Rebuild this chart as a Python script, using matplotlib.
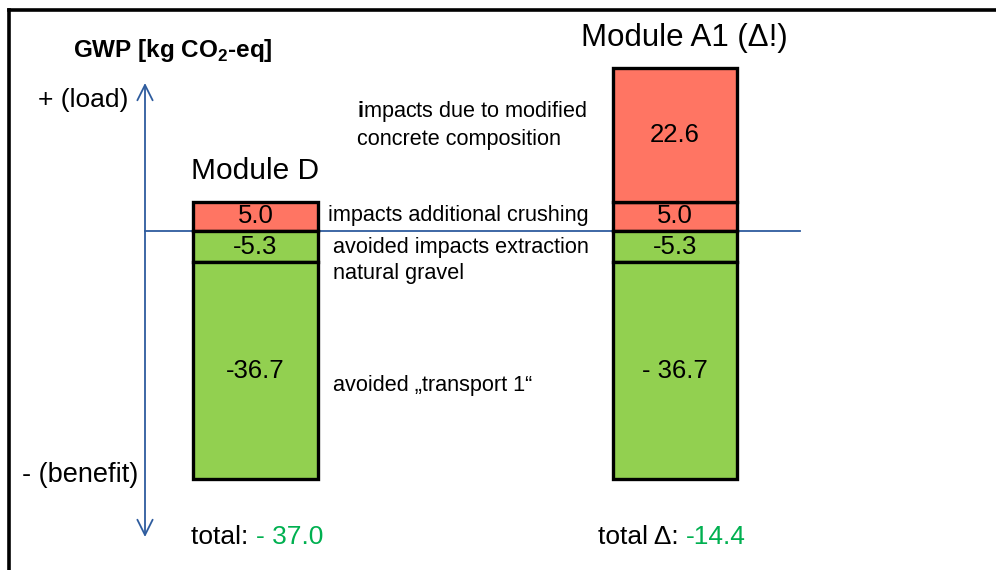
import matplotlib
matplotlib.use("Agg")
import matplotlib.pyplot as plt
from matplotlib.lines import Line2D

plt.rcParams['font.family'] = ['Liberation Sans', 'DejaVu Sans']
plt.rcParams['mathtext.fontset'] = 'custom'
plt.rcParams['mathtext.rm'] = 'Liberation Sans'
plt.rcParams['mathtext.bf'] = 'Liberation Sans:bold'

# data
modules = ['Module D', 'Module A1 (\u0394!)']
pos_d = [5.0]
neg_d = [-5.3, -36.7]
pos_a1 = [5.0, 22.6]
neg_a1 = [-5.3, -36.7]
labels_d_pos = ['5.0']
labels_d_neg = ['-5.3', '-36.7']
labels_a1_pos = ['5.0', '22.6']
labels_a1_neg = ['-5.3', '- 36.7']
totals = ['- 37.0', '-14.4']

RED = '#FF7563'
GREEN = '#92D050'
TGREEN = '#00B050'
BLUE = '#2E5C9E'

W, H = 996, 570
BASE = 231  # pixel row of the zero line
S = 5.9     # pixels per kg CO2-eq


def py(ypx):
    return (BASE - ypx) / S


fig = plt.figure(figsize=(W / 100, H / 100), dpi=100)
ax = fig.add_axes([0, 0, 1, 1])
ax.set_xlim(0, W)
ax.set_ylim(py(H), py(0))
ax.axis('off')

# frame
fig.add_artist(Line2D([9 / W, 9 / W], [0, 1 - 10 / H], color='black', lw=2.6))
fig.add_artist(Line2D([9 / W, 1], [1 - 10 / H, 1 - 10 / H], color='black', lw=2.6))

# axes arrow + zero line
ax.annotate('', xy=(145, py(83)), xytext=(145, py(537)),
            arrowprops=dict(arrowstyle='<->,head_length=1.1,head_width=0.55',
                            color=BLUE, lw=1.3, shrinkA=0, shrinkB=0))
ax.plot([145, 800], [0, 0], color=BLUE, lw=1.3, zorder=1)


def stack(xc, width, pos, neg, lab_pos, lab_neg):
    bottom = 0
    for v, lab in zip(pos, lab_pos):
        ax.bar(xc, v, bottom=bottom, width=width, color=RED,
               edgecolor='black', linewidth=2.4, zorder=3)
        ax.text(xc, bottom + v / 2, lab, ha='center', va='center',
                fontsize=18.5, zorder=4)
        bottom += v
    bottom = 0
    for v, lab in zip(neg, lab_neg):
        ax.bar(xc, v, bottom=bottom, width=width, color=GREEN,
               edgecolor='black', linewidth=2.4, zorder=3)
        ax.text(xc, bottom + v / 2, lab, ha='center', va='center',
                fontsize=18.5, zorder=4)
        bottom += v


stack(255.5, 125, pos_d, neg_d, labels_d_pos, labels_d_neg)
stack(675, 124, pos_a1, neg_a1, labels_a1_pos, labels_a1_neg)

# titles
ax.text(255, py(171), modules[0], ha='center', va='center', fontsize=21.5)
ax.text(684, py(38), modules[1], ha='center', va='center', fontsize=22.5)

ax.text(73, py(50), r'GWP [kg CO$_\mathbf{2}$-eq]', ha='left', va='center',
        fontsize=17.5, fontweight='bold')
ax.text(128, py(100), '+ (load)', ha='right', va='center', fontsize=19)
ax.text(138, py(475), '- (benefit)', ha='right', va='center', fontsize=19.5)

# annotations
FS = 15.6
ax.text(357, py(112), r'$\mathbf{i}$mpacts due to modified', ha='left',
        va='center', fontsize=FS)
ax.text(357, py(139), 'concrete composition', ha='left', va='center', fontsize=FS)
ax.text(328, py(216), 'impacts additional crushing', ha='left', va='center', fontsize=FS)
ax.text(333, py(247), 'avoided impacts extraction', ha='left', va='center', fontsize=FS)
ax.text(333, py(274), 'natural gravel', ha='left', va='center', fontsize=FS)
ax.text(333, py(386), 'avoided \u201etransport 1\u201c', ha='left', va='center', fontsize=FS)

# totals
t1 = ax.text(191, py(537), 'total: ', ha='left', va='center', fontsize=19)
t2 = ax.text(598, py(537), 'total \u0394: ', ha='left', va='center', fontsize=19)
fig.canvas.draw()
r = fig.canvas.get_renderer()
for t, val in zip([t1, t2], totals):
    bb = t.get_window_extent(renderer=r)
    ax.text(bb.x1, bb.y0 + bb.height / 2, val, transform=None, ha='left',
            va='center', fontsize=19, color=TGREEN)

fig.savefig('out.png', dpi=100)
